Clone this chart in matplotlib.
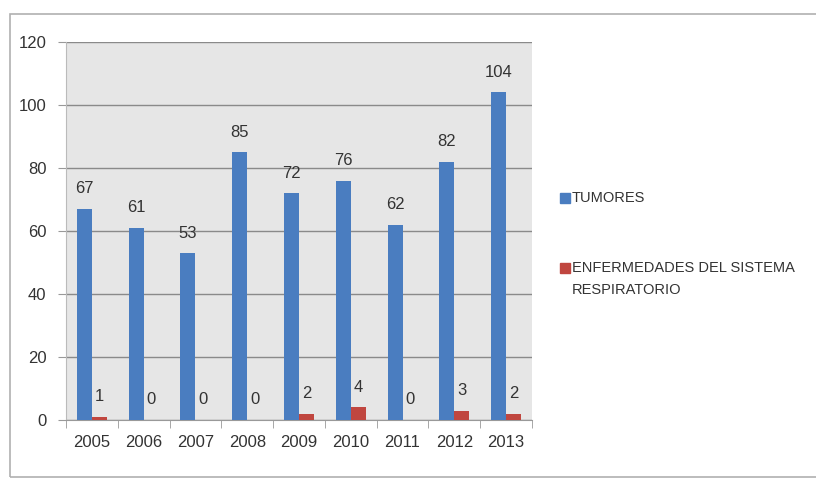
import matplotlib
matplotlib.use("Agg")
import matplotlib.pyplot as plt
from matplotlib.patches import Rectangle
import numpy as np

years = ["2005", "2006", "2007", "2008", "2009", "2010", "2011", "2012", "2013"]
tumores = [67, 61, 53, 85, 72, 76, 62, 82, 104]
respiratorio = [1, 0, 0, 0, 2, 4, 0, 3, 2]
series_names = ["TUMORES", "ENFERMEDADES DEL SISTEMA\nRESPIRATORIO"]
colores = ['#4a7dc0', '#c0463f']

plt.rcParams['font.family'] = ['Liberation Sans', 'DejaVu Sans']

fig = plt.figure(figsize=(8.16, 4.79), dpi=100)
# marco exterior
fig.patches.append(Rectangle((10/816, 2/479), 1.0, 1 - 16/479, transform=fig.transFigure,
                             fill=False, edgecolor='#b0b0b0', linewidth=1.2))

ax = fig.add_axes([66/816, 59/479, 466/816, 378/479])
ax.set_facecolor('#e6e6e6')

x = np.arange(len(years))
w = 0.29
b1 = ax.bar(x - w/2, tumores, w, color=colores[0], label=series_names[0], zorder=3)
b2 = ax.bar(x + w/2, respiratorio, w, color=colores[1], label=series_names[1], zorder=3)

for bars, vals in [(b1, tumores), (b2, respiratorio)]:
    for rect, v in zip(bars, vals):
        ax.annotate(str(v), (rect.get_x() + rect.get_width()/2, v), xytext=(0, 9),
                    textcoords='offset points', ha='center', va='bottom', fontsize=12, color='#333333')

ax.set_ylim(0, 120)
ax.set_yticks(range(0, 121, 20))
ax.set_xlim(-0.5, len(years) - 0.5)
ax.set_xticks(x)
ax.set_xticklabels(years)
ax.set_xticks(np.arange(-0.5, len(years)), minor=True)
ax.tick_params(axis='x', which='major', length=0, pad=11, labelsize=12, colors='#333333')
ax.tick_params(axis='x', which='minor', length=6, color='#999999')
ax.tick_params(axis='y', length=6, color='#999999', labelsize=12, colors='#333333', pad=8)
ax.grid(axis='y', color='#8a8a8a', linewidth=1, zorder=0)

for s in ['top', 'right']:
    ax.spines[s].set_visible(False)
ax.spines['left'].set_color('#bbbbbb')
ax.spines['bottom'].set_color('#999999')

# leyenda a mano (cuadro alineado con la primera línea)
ley_y = [198, 268]
for nombre, col, yy in zip(series_names, colores, ley_y):
    fig.patches.append(Rectangle((560/816, 1 - (yy + 5)/479), 10/816, 10/479,
                                 transform=fig.transFigure, color=col))
    fig.text(572/816, 1 - (yy - 7)/479, nombre, ha='left', va='top', fontsize=10.5,
             color='#333333', linespacing=1.75)

fig.savefig("out.png", dpi=100)
